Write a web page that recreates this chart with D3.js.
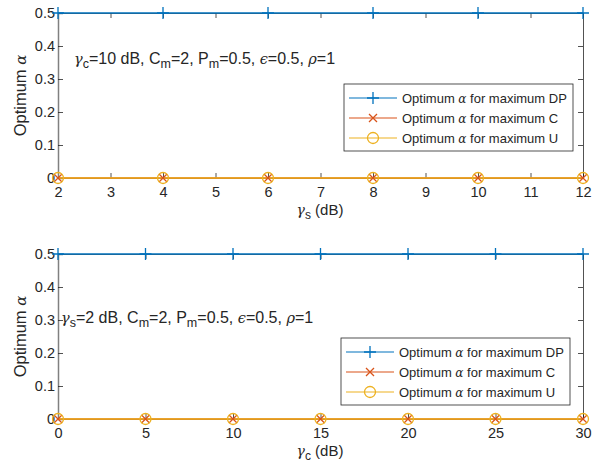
<!DOCTYPE html>
<html><head><meta charset="utf-8">
<script src="https://cdn.jsdelivr.net/npm/d3@7"></script>
<style>body{margin:0;background:#fff;} text{font-family:"Liberation Sans",Arial,sans-serif;fill:#262626;}</style>
</head><body>
<svg id="c" width="610" height="469"></svg>
<script>
const topX = [2,4,6,8,10,12];
const topDP = [0.5,0.5,0.5,0.5,0.5,0.5];
const topC = [0,0,0,0,0,0];
const topU = [0,0,0,0,0,0];
const botX = [0,5,10,15,20,25,30];
const botDP = [0.5,0.5,0.5,0.5,0.5,0.5,0.5];
const botC = [0,0,0,0,0,0,0];
const botU = [0,0,0,0,0,0,0];
const yTicks = [0,0.1,0.2,0.3,0.4,0.5];
const topXTicks = [2,3,4,5,6,7,8,9,10,11,12];
const botXTicks = [0,5,10,15,20,25,30];
const legendLabels = ["for maximum DP","for maximum C","for maximum U"];
const colors = ["#0072BD","#D95319","#EDB120"];

const svg = d3.select("#c");

function panel(cfg){
  const g = svg.append("g");
  const x = d3.scaleLinear().domain(cfg.xdom).range([58,583]);
  const y = d3.scaleLinear().domain([0,0.5]).range([cfg.y0, cfg.y1]);
  const xb = g.append("g").attr("transform",`translate(0,${cfg.y0})`)
    .call(d3.axisBottom(x).tickValues(cfg.xticks).tickSize(-5).tickPadding(9).tickFormat(d3.format("d")));
  const xt = g.append("g").attr("transform",`translate(0,${cfg.y1})`)
    .call(d3.axisTop(x).tickValues(cfg.xticks).tickSize(-5).tickFormat(""));
  const yl = g.append("g").attr("transform",`translate(58,0)`)
    .call(d3.axisLeft(y).tickValues(yTicks).tickSize(-5).tickPadding(3).tickFormat(d=>d===0?"0":d3.format(".1f")(d)));
  const yr = g.append("g").attr("transform",`translate(583,0)`)
    .call(d3.axisRight(y).tickValues(yTicks).tickSize(-5).tickFormat(""));
  [xb,xt,yl,yr].forEach(a=>{
    a.attr("font-family",null).attr("font-size",null);
    a.selectAll("text").style("font-size","14.5px").attr("fill","#262626");
    a.selectAll("line").attr("stroke","#262626").attr("stroke-width",0.8);
    a.select(".domain").attr("stroke","#262626").attr("stroke-width",0.8);
  });
  yl.select(".domain").attr("stroke","#808080").attr("stroke-width",1.5);
  xb.selectAll("text").attr("dy","0.71em");
  const line = d3.line().x(d=>x(d[0])).y(d=>y(d[1]));
  const series = [cfg.dp, cfg.c, cfg.u];
  series.forEach((s,i)=>{
    const pts = cfg.xs.map((v,j)=>[v,s[j]]);
    g.append("path").attr("d",line(pts)).attr("fill","none").attr("stroke",colors[i]).attr("stroke-width",1.5);
  });
  series.forEach((s,i)=>{
    const pts = cfg.xs.map((v,j)=>[v,s[j]]);
    pts.forEach(p=>marker(g,i,x(p[0]),y(p[1])));
  });
  g.append("text").attr("x",cfg.annX).attr("y",cfg.annY).style("font-size","16px").html(cfg.ann);
  g.append("text").attr("transform",`translate(26,${(cfg.y0+cfg.y1)/2}) rotate(-90)`).attr("text-anchor","middle")
    .style("font-size","16.5px").html('Optimum <tspan font-family="DejaVu Serif" font-style="italic" font-size="15">α</tspan>');
  g.append("text").attr("x",320).attr("y",cfg.y0+37).attr("text-anchor","middle").style("font-size","15px")
    .html(`<tspan font-family="DejaVu Serif" font-style="italic" font-size="14">γ</tspan><tspan dy="4" font-size="12">${cfg.sub}</tspan><tspan dy="-4"> (dB)</tspan>`);
  const L = cfg.leg;
  g.append("rect").attr("x",L.x).attr("y",L.y).attr("width",L.w).attr("height",L.h).attr("fill","#fff").attr("stroke","#262626").attr("stroke-width",0.8);
  legendLabels.forEach((t,i)=>{
    const ry = L.y+14+i*20;
    g.append("line").attr("x1",L.x+5).attr("x2",L.x+53).attr("y1",ry).attr("y2",ry).attr("stroke",colors[i]).attr("stroke-width",1.2);
    marker(g,i,L.x+29,ry);
    g.append("text").attr("x",L.x+58).attr("y",ry+4.5).style("font-size","13px")
      .html(`Optimum <tspan font-family="DejaVu Serif" font-style="italic" font-size="12">α</tspan> ${t}`);
  });
}
function marker(g,i,cx,cy){
  if(i===0){
    g.append("path").attr("d",`M${cx-6},${cy}H${cx+6}M${cx},${cy-6}V${cy+6}`).attr("stroke",colors[0]).attr("stroke-width",1.3);
  } else if(i===1){
    g.append("path").attr("d",`M${cx-4},${cy-4}L${cx+4},${cy+4}M${cx-4},${cy+4}L${cx+4},${cy-4}`).attr("stroke",colors[1]).attr("stroke-width",1.3);
  } else {
    g.append("circle").attr("cx",cx).attr("cy",cy).attr("r",5.5).attr("fill","none").attr("stroke",colors[2]).attr("stroke-width",1.3);
  }
}
const sym = s=>`<tspan font-family="DejaVu Serif" font-style="italic" font-size="14.5">${s}</tspan>`;
const sb = s=>`<tspan dy="4" font-size="12.5">${s}</tspan>`;
const up = `<tspan dy="-4">`;
panel({xdom:[2,12], xticks:topXTicks, y0:178, y1:13, xs:topX, dp:topDP, c:topC, u:topU, sub:"s",
  annX:74, annY:64,
  ann:`${sym("γ")}${sb("c")}${up}=10 dB, C</tspan>${sb("m")}${up}=2, P</tspan>${sb("m")}${up}=0.5, </tspan>${sym("ϵ")}=0.5, ${sym("ρ")}=1`,
  leg:{x:344,y:84,w:229,h:67}});
panel({xdom:[0,30], xticks:botXTicks, y0:419, y1:254, xs:botX, dp:botDP, c:botC, u:botU, sub:"c",
  annX:61, annY:323,
  ann:`${sym("γ")}${sb("s")}${up}=2 dB, C</tspan>${sb("m")}${up}=2, P</tspan>${sb("m")}${up}=0.5, </tspan>${sym("ϵ")}=0.5, ${sym("ρ")}=1`,
  leg:{x:341,y:338,w:229,h:67}});
</script>
</body></html>
